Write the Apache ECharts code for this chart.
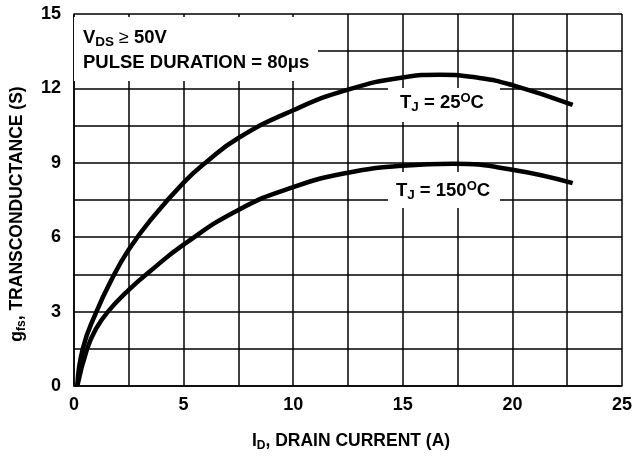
<!DOCTYPE html>
<html>
<head>
<meta charset="utf-8">
<script src="https://cdn.jsdelivr.net/npm/echarts@6/dist/echarts.min.js"></script>
<style>
html,body{margin:0;padding:0;background:#fff;}
#c{width:635px;height:457px;}
</style>
</head>
<body>
<div id="c"></div>
<script>
// Drain current (A) and transconductance (S) for TJ = 25 °C
var id25  = [0.15, 0.4, 1.0,  1.75, 2.5, 3.5, 5.0, 6.0, 7.5,  10.0,  12.5,  15.0,  16.7,  18.5,  20.0,  22.75];
var gfs25 = [0,    1.5, 2.95, 4.35, 5.5, 6.7, 8.2, 9.0, 10.0, 11.12, 11.95, 12.44, 12.55, 12.42, 12.13, 11.34];
// TJ = 150 °C
var id150  = [0.15, 0.6, 1.0, 1.55, 2.5,  3.5,  5.0, 7.5, 10.0, 12.5, 15.0, 17.3, 20.0, 22.75];
var gfs150 = [0,    1.5, 2.3, 3.0,  3.88, 4.65, 5.7, 7.1, 8.02, 8.6,  8.88, 8.96, 8.72, 8.18];
// tick labels
var xTickLabels = [0, 5, 10, 15, 20, 25];
var yTickLabels = [0, 3, 6, 9, 12, 15];

function pairs(xs, ys) { return xs.map(function (x, i) { return [x, ys[i]]; }); }
function hasTick(list, v) { return list.some(function (t) { return Math.abs(t - v) < 1e-6; }); }

var FONT = '"Liberation Sans", Arial, Helvetica, sans-serif';
var chart = echarts.init(document.getElementById('c'));
var mainRich = {
  m: { fontFamily: FONT, fontWeight: 'bold', fontSize: 17.5, color: '#000', lineHeight: 22, verticalAlign: 'middle' },
  s: { fontFamily: FONT, fontWeight: 'bold', fontSize: 12, color: '#000', lineHeight: 12, verticalAlign: 'bottom' }
};
var annRich = {
  m: { fontFamily: FONT, fontWeight: 'bold', fontSize: 18.5, color: '#000', lineHeight: 22, verticalAlign: 'middle' },
  s: { fontFamily: FONT, fontWeight: 'bold', fontSize: 13.5, color: '#000', lineHeight: 12, verticalAlign: 'bottom' },
  u: { fontFamily: FONT, fontWeight: 'bold', fontSize: 13, color: '#000', lineHeight: 14, verticalAlign: 'top' },
  n: { fontFamily: FONT, fontWeight: 'normal', fontSize: 18, color: '#000', lineHeight: 22, verticalAlign: 'middle' }
};

var option = {
  animation: false,
  backgroundColor: '#fff',
  grid: { left: 71, right: 12, top: 14, bottom: 64, containLabel: false },
  xAxis: {
    type: 'value', min: 0, max: 25, interval: 2.5,
    name: '{m|I}{s|D}{m|, DRAIN CURRENT (A)}',
    nameLocation: 'middle', nameGap: 44,
    nameTextStyle: { rich: mainRich, padding: [0, 0, 0, 6] },
    axisLine: { show: true, lineStyle: { color: '#000', width: 1.5 } },
    axisTick: { show: false },
    splitLine: { show: true, lineStyle: { color: '#000', width: 1.5 } },
    axisLabel: {
      margin: 10, color: '#000', fontFamily: FONT, fontWeight: 'bold', fontSize: 18,
      formatter: function (v) { return hasTick(xTickLabels, v) ? String(v) : ''; }
    }
  },
  yAxis: {
    type: 'value', min: 0, max: 15, interval: 1.5,
    name: '{m|g}{s|fs}{m|, TRANSCONDUCTANCE (S)}',
    nameLocation: 'middle', nameGap: 46, nameRotate: 90,
    nameTextStyle: { rich: mainRich, padding: [0, 28, 0, 0] },
    axisLine: { show: true, lineStyle: { color: '#000', width: 1.5 } },
    axisTick: { show: false },
    splitLine: { show: true, lineStyle: { color: '#000', width: 1.5 } },
    axisLabel: {
      margin: 13, color: '#000', fontFamily: FONT, fontWeight: 'bold', fontSize: 18,
      formatter: function (v) { return hasTick(yTickLabels, v) ? String(v) : ''; }
    }
  },
  series: [
    { type: 'line', name: 'TJ = 25°C', data: pairs(id25, gfs25), smooth: 0.5, showSymbol: false,
      lineStyle: { color: '#000', width: 4.5 }, z: 5 },
    { type: 'line', name: 'TJ = 150°C', data: pairs(id150, gfs150), smooth: 0.5, showSymbol: false,
      lineStyle: { color: '#000', width: 4.5 }, z: 5 }
  ],
  graphic: [
    { type: 'rect', shape: { x: 74, y: 17, width: 244, height: 64 }, style: { fill: '#fff' }, z: 10 },
    { type: 'text', x: 83, y: 38, z: 11,
      style: { text: '{m|V}{s|DS}{n| ≥ }{m|50V}', rich: annRich, verticalAlign: 'middle', align: 'left' } },
    { type: 'text', x: 83, y: 63, z: 11,
      style: { text: '{m|PULSE DURATION = 80μs}', rich: annRich, verticalAlign: 'middle', align: 'left' } },
    { type: 'rect', shape: { x: 388, y: 88, width: 112, height: 34 }, style: { fill: '#fff' }, z: 10 },
    { type: 'text', x: 442, y: 103, z: 11,
      style: { text: '{m|T}{s|J}{m| = 25}{u|O}{m|C}', rich: annRich, verticalAlign: 'middle', align: 'center' } },
    { type: 'rect', shape: { x: 388, y: 172, width: 112, height: 36 }, style: { fill: '#fff' }, z: 10 },
    { type: 'text', x: 443, y: 191, z: 11,
      style: { text: '{m|T}{s|J}{m| = 150}{u|O}{m|C}', rich: annRich, verticalAlign: 'middle', align: 'center' } }
  ]
};
chart.setOption(option);
</script>
</body>
</html>
